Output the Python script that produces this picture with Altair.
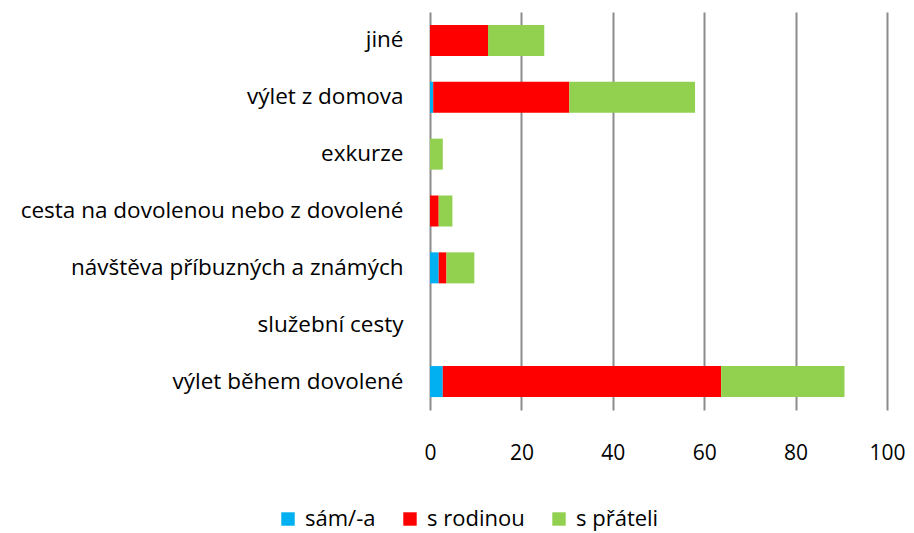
import altair as alt
import pandas as pd

categories = ["jiné", "výlet z domova", "exkurze", "cesta na dovolenou nebo z dovolené",
              "návštěva příbuzných a známých", "služební cesty", "výlet během dovolené"]
series = ["sám/-a", "s rodinou", "s přáteli"]
sam = [0.0, 0.7, 0.0, 0.0, 1.9, 0.0, 2.8]
rodina = [12.7, 29.8, 0.0, 1.9, 1.7, 0.0, 60.9]
pratele = [12.3, 27.5, 2.8, 3.0, 6.1, 0.0, 27.0]
colors = ["#00B0F0", "#FF0000", "#92D050"]

rows = []
for i, c in enumerate(categories):
    for j, (s, vals) in enumerate(zip(series, [sam, rodina, pratele])):
        rows.append({"kategorie": c, "skupina": s, "hodnota": vals[i], "poradi": j})
df = pd.DataFrame(rows)

font = "Open Sans"

chart = alt.Chart(df).mark_bar(size=31).encode(
    y=alt.Y("kategorie:N", sort=categories, title=None,
            axis=alt.Axis(ticks=False, domain=False, labelPadding=27, labelFontSize=22.5,
                          labelFont=font, labelColor="#000000", labelLimit=430)),
    x=alt.X("hodnota:Q", title=None, scale=alt.Scale(domain=[0, 100]), stack="zero",
            axis=alt.Axis(values=[0, 20, 40, 60, 80, 100], ticks=False, domain=False,
                          grid=True, gridColor="#8c8c8c", gridWidth=2, labelPadding=32,
                          labelFlush=False,
                          labelFontSize=21, labelFont=font, labelColor="#000000")),
    color=alt.Color("skupina:N", sort=series,
                    scale=alt.Scale(domain=series, range=colors),
                    legend=alt.Legend(title=None, orient="none", direction="horizontal",
                                      legendX=-153, legendY=496, symbolType="square",
                                      symbolSize=180, symbolStrokeWidth=0, symbolOpacity=1,
                                      labelFontSize=22, labelFont=font, labelColor="#000000",
                                      columnPadding=23, labelOffset=6)),
    order=alt.Order("poradi:Q"),
).properties(
    width=457, height=398,
    autosize=alt.AutoSizeParams(type="none"),
    padding={"left": 422, "top": 4, "right": 19, "bottom": 125},
).configure_view(stroke=None).configure_scale(bandPaddingInner=0.45)

chart.save("out.html", embed_options={"renderer": "svg", "actions": False})
